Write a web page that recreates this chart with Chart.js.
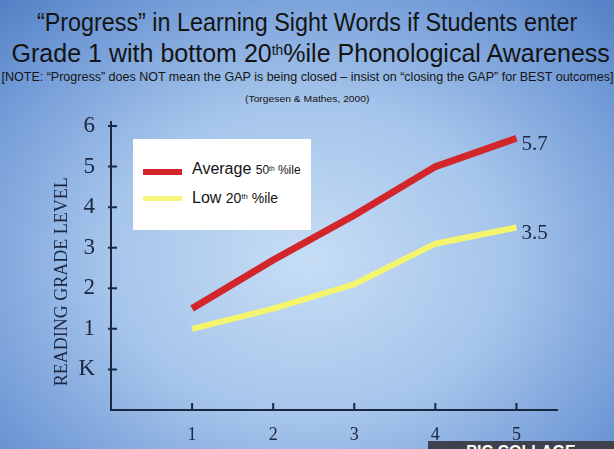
<!DOCTYPE html>
<html lang="en">
<head>
<meta charset="UTF-8">
<title>Progress in Learning Sight Words</title>
<script src="https://cdn.jsdelivr.net/npm/chart.js"></script>
<style>
  html, body { margin: 0; padding: 0; }
  body {
    width: 614px; height: 449px; overflow: hidden; position: relative;
    background: radial-gradient(ellipse 72% 78% at 50% 58%, #c6ddf5 0%, #a6c5eb 45%, #7099d6 82%, #5582c6 100%);
    font-family: 'Liberation Sans', Arial, sans-serif;
    color: #141414;
  }
  #chart { position: absolute; left: 0; top: 0; }
  .hd { position: absolute; left: 0; width: 614px; text-align: center; white-space: nowrap; line-height: 1; }
  .hd span { display: inline-block; transform-origin: center; }
  #t1 { top: 9px; font-size: 26px; }
  #t2 { top: 40px; font-size: 26px; }
  #note { top: 71px; font-size: 12px; }
  #cite { top: 95px; font-size: 9px; }
  sup { font-size: 0.55em; vertical-align: 0.5em; line-height: 0; }

  /* legend box */
  .legend { position: absolute; left: 133px; top: 139px; width: 178px; height: 91px; background: #fff; }
  .sw { position: absolute; left: 10px; width: 39px; }
  .lt { position: absolute; left: 59px; white-space: nowrap; font-size: 16px; line-height: 1; }
  .sm { font-size: 12px; }

  .wm { position: absolute; left: 428px; top: 441px; width: 186px; height: 10px; overflow: hidden;
        background: #3d424c; color: #fff; font: bold 16px 'Liberation Sans', sans-serif; text-align: center; line-height: 22px; }
</style>
</head>
<body>
  <div class="hd fit" id="t1" data-w="540"><span>“Progress” in Learning Sight Words if Students enter</span></div>
  <div class="hd fit" id="t2" data-w="598"><span>Grade 1 with bottom 20<sup>th</sup>%ile Phonological Awareness</span></div>
  <div class="hd fit" id="note" data-w="612"><span>[NOTE: “Progress” does NOT mean the GAP is being closed – insist on “closing the GAP” for BEST outcomes]</span></div>
  <div class="hd fit" id="cite" data-w="125"><span>(Torgesen &amp; Mathes, 2000)</span></div>

  <div class="wm">PIC COLLAGE</div>

  <canvas id="chart" width="614" height="449"></canvas>

  <div class="legend">
    <div class="sw" style="top:30px;height:6px;background:#d3262a"></div>
    <div class="lt" style="top:22px">Average <span class="sm">50<sup>th</sup> %ile</span></div>
    <div class="sw" style="top:57px;height:5px;background:#f4f57a"></div>
    <div class="lt" style="top:51px">Low <span class="sm" style="font-size:14px">20<sup>th</sup> %ile</span></div>
  </div>

<script>
  // grade (x) and reading grade level (y)
  const grades = [1, 2, 3, 4, 5];
  const average50 = [1.5, 2.7, 3.8, 5.0, 5.7];
  const low20 = [1.0, 1.5, 2.1, 3.1, 3.5];
  const yTicks = [0, 1, 2, 3, 4, 5, 6];
  const yTickLabels = ['K', '1', '2', '3', '4', '5', '6'];

  // squeeze headings to their width in the picture
  document.querySelectorAll('.fit').forEach(el => {
    const s = el.querySelector('span');
    const k = Number(el.dataset.w) / s.offsetWidth;
    s.style.transform = 'scaleX(' + k + ')';
  });

  const ink = '#1b2640';
  const serif = "'Liberation Serif', 'Times New Roman', serif";

  // small tick marks drawn across the axes
  const innerTicks = {
    id: 'innerTicks',
    beforeDatasetsDraw(chart) {
      const { ctx, scales: { x, y } } = chart;
      ctx.save();
      ctx.strokeStyle = ink;
      ctx.lineWidth = 2;
      ctx.beginPath();
      yTicks.forEach(v => {
        const py = y.getPixelForValue(v);
        ctx.moveTo(y.right - 3, py);
        ctx.lineTo(y.right + 6, py);
      });
      grades.forEach(v => {
        const px = x.getPixelForValue(v);
        ctx.moveTo(px, x.top);
        ctx.lineTo(px, x.top - 7);
      });
      ctx.stroke();
      ctx.restore();
    }
  };

  // value written after the last point of each line
  const endLabels = {
    id: 'endLabels',
    afterDatasetsDraw(chart) {
      const { ctx } = chart;
      ctx.save();
      ctx.fillStyle = ink;
      ctx.font = '21px ' + serif;
      ctx.textBaseline = 'middle';
      chart.data.datasets.forEach((ds, i) => {
        const pts = chart.getDatasetMeta(i).data;
        const last = pts[pts.length - 1];
        const val = ds.data[ds.data.length - 1].y;
        ctx.fillText(val.toFixed(1), last.x + 5, last.y + 6);
      });
      ctx.restore();
    }
  };

  new Chart(document.getElementById('chart'), {
    type: 'line',
    data: {
      datasets: [{
        label: 'Average 50th %ile',
        data: grades.map((g, i) => ({ x: g, y: average50[i] })),
        borderColor: '#d3262a',
        borderWidth: 7,
        pointRadius: 0,
        tension: 0
      }, {
        label: 'Low 20th %ile',
        data: grades.map((g, i) => ({ x: g, y: low20[i] })),
        borderColor: '#f4f56c',
        borderWidth: 6,
        pointRadius: 0,
        tension: 0
      }]
    },
    options: {
      responsive: false,
      animation: false,
      layout: { padding: { left: 47, right: 57, top: 122, bottom: 0 } },
      plugins: {
        legend: { display: false },
        tooltip: { enabled: false }
      },
      scales: {
        x: {
          type: 'linear',
          min: 0,
          max: 5.5,
          afterBuildTicks: s => { s.ticks = grades.map(v => ({ value: v })); },
          afterFit: s => { s.height = 39; },
          grid: { display: false },
          border: { display: true, color: ink, width: 2 },
          ticks: { color: ink, font: { family: serif, size: 18 }, padding: 6 }
        },
        y: {
          min: -1,
          max: 6.1,
          afterBuildTicks: s => { s.ticks = yTicks.map(v => ({ value: v })); },
          afterFit: s => { s.width = 64; },
          grid: { display: false },
          border: { display: true, color: ink, width: 2 },
          ticks: {
            color: ink,
            font: { family: serif, size: 23 },
            padding: 8,
            callback: v => yTickLabels[yTicks.indexOf(v)]
          },
          title: {
            display: true,
            // trailing spaces push the text down a little, as in the picture
            text: 'READING GRADE LEVEL\u00a0\u00a0\u00a0\u00a0\u00a0\u00a0\u00a0',
            color: ink,
            font: { family: serif, size: 18 }
          }
        }
      }
    },
    plugins: [innerTicks, endLabels]
  });
</script>
</body>
</html>
